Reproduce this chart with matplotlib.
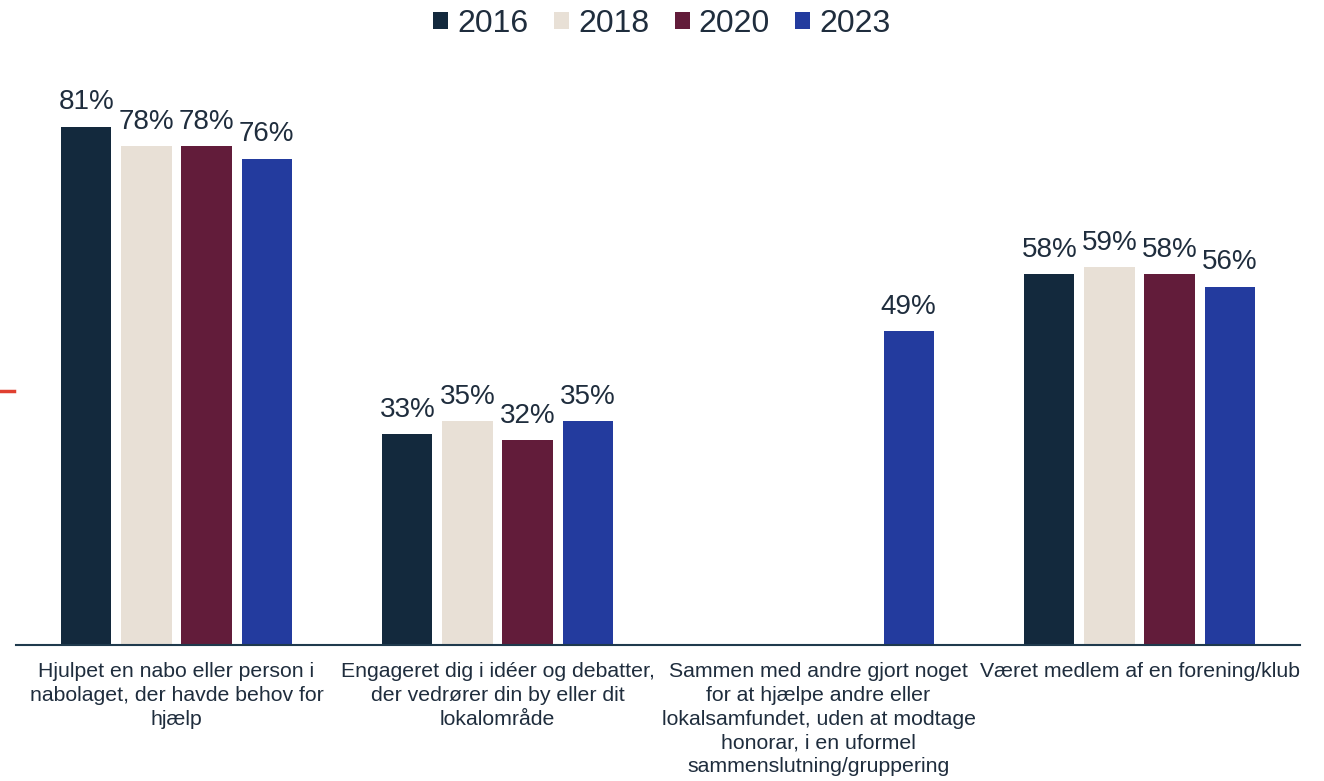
import numpy as np
import matplotlib.pyplot as plt
from matplotlib.lines import Line2D

plt.rcParams["font.family"] = ["Liberation Sans", "DejaVu Sans"]

TEXT = "#1f2d3d"

categories = [
    "Hjulpet en nabo eller person i\nnabolaget, der havde behov for\nhjælp",
    "Engageret dig i idéer og debatter,\nder vedrører din by eller dit\nlokalområde",
    "Sammen med andre gjort noget\nfor at hjælpe andre eller\nlokalsamfundet, uden at modtage\nhonorar, i en uformel\nsammenslutning/gruppering",
    "Været medlem af en forening/klub",
]
years = ["2016", "2018", "2020", "2023"]
v2016 = [81, 33, None, 58]
v2018 = [78, 35, None, 59]
v2020 = [78, 32, None, 58]
v2023 = [76, 35, 49, 56]
colors = ["#13293d", "#e8e0d6", "#621c3a", "#233b9e"]

series = [v2016, v2018, v2020, v2023]

fig = plt.figure(figsize=(13.24, 7.81), dpi=100)
ax = fig.add_axes([16 / 1324, 1 - 645 / 781, 1284 / 1324, 576 / 781])

x = np.arange(len(categories))
width = 0.156
step = 0.187

for i, (yr, vals, c) in enumerate(zip(years, series, colors)):
    xs = [xi + (i - 1.5) * step for xi, v in zip(x, vals) if v is not None]
    hs = [v for v in vals if v is not None]
    bars = ax.bar(xs, hs, width=width, color=c, label=yr, zorder=2)
    for b, h in zip(bars, hs):
        ax.annotate(f"{h}%", (b.get_x() + b.get_width() / 2, h),
                    xytext=(0, 8), textcoords="offset points",
                    ha="center", va="bottom", fontsize=20, color=TEXT)

ax.set_xlim(-0.5, len(categories) - 0.5)
ax.set_ylim(0, 90)
ax.set_yticks([])
ax.set_xticks(x)
ax.set_xticklabels(categories, fontsize=15.3, color=TEXT, linespacing=1.33, va="top")
ax.tick_params(axis="x", length=0, pad=12)
for side in ["top", "right", "left"]:
    ax.spines[side].set_visible(False)
ax.spines["bottom"].set_color("#1f3a4d")
ax.spines["bottom"].set_linewidth(1.5)

fig.legend(loc="center", bbox_to_anchor=(0.5, 1 - 24 / 781), ncol=4, frameon=False,
           fontsize=23, handlelength=0.47, handleheight=0.47, handletextpad=0.28,
           columnspacing=0.8, labelcolor=TEXT)

# small red marker on the left edge
fig.add_artist(Line2D([0, 14 / 1324], [1 - 391 / 781] * 2, color="#e04030", lw=2.5,
                      transform=fig.transFigure))

fig.savefig("out.png", dpi=100)
